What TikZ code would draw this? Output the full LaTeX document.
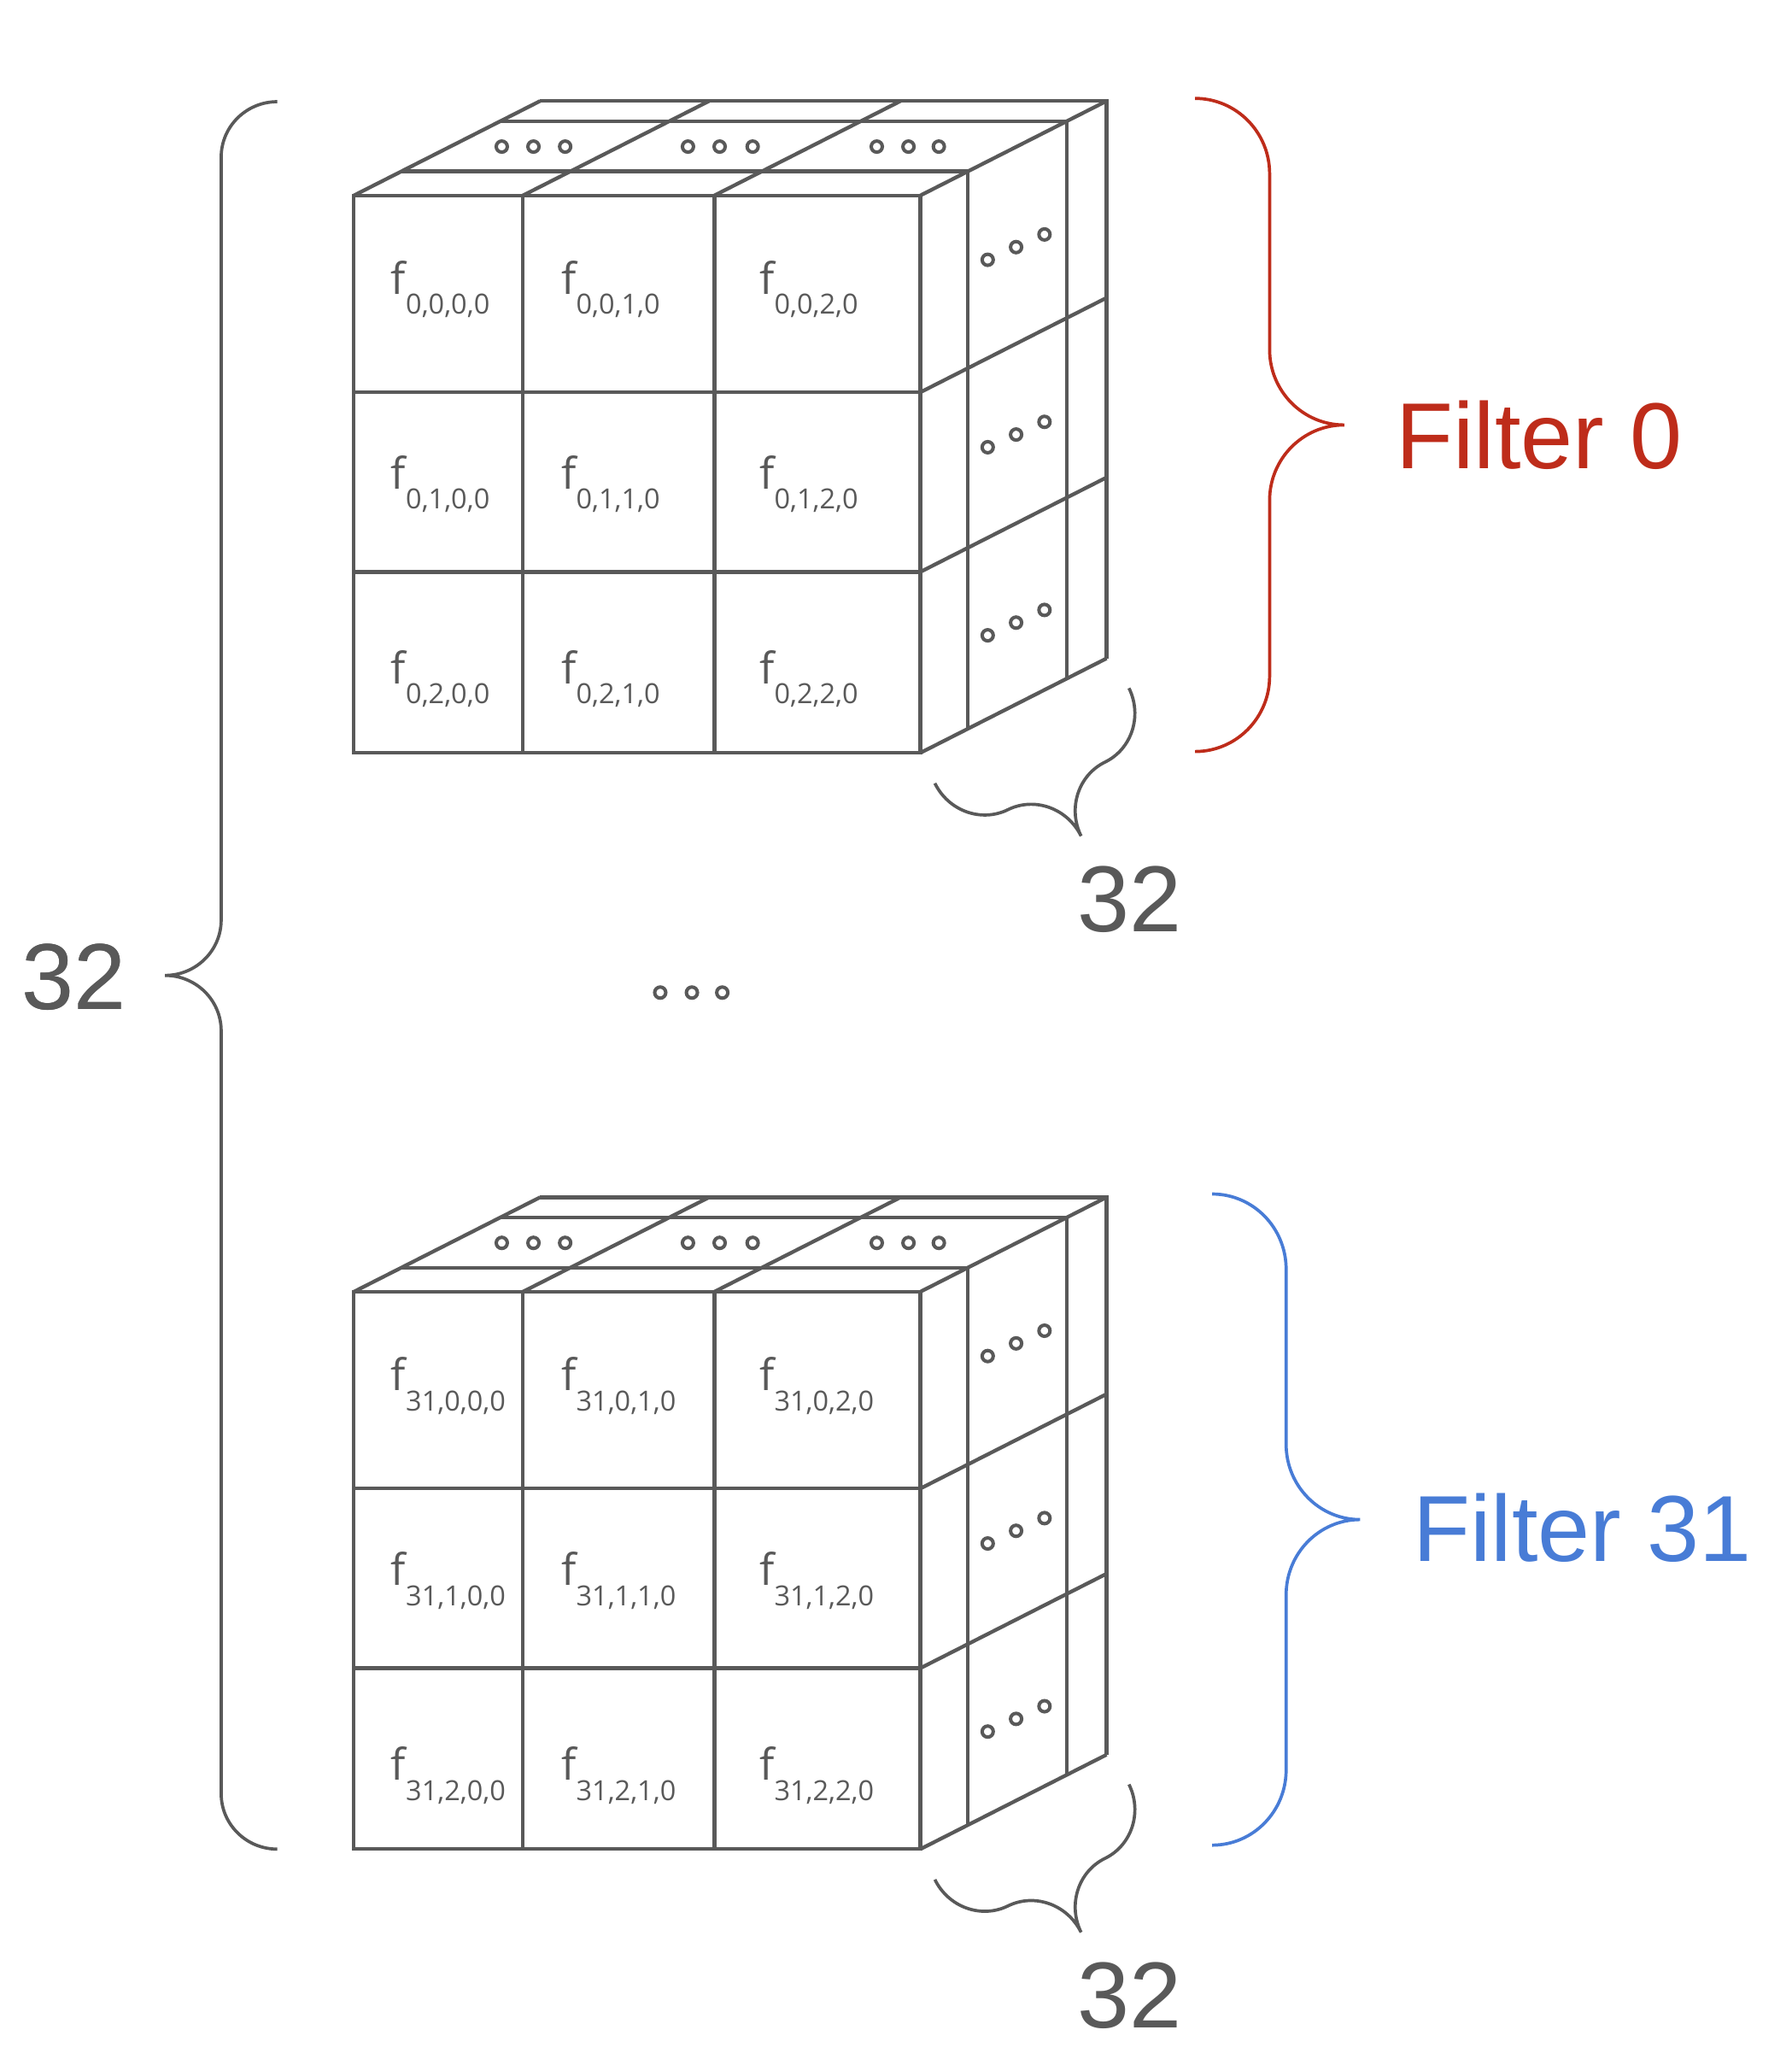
\documentclass[tikz,border=0pt]{standalone}
\usepackage{fontspec}
\setmainfont{Liberation Sans}
\newfontfamily\cellfont{Open Sans}
\usepackage{tikz}
\definecolor{inkgray}{RGB}{89,89,89}
\definecolor{filterred}{RGB}{190,44,26}
\definecolor{filterblue}{RGB}{72,124,214}

% curly brace: length, radius along, radius across, draw options
\newcommand{\curly}[4]{%
	\draw[#4] (0,0) arc[start angle=180, end angle=90, x radius=#2, y radius=#3]
		-- ++({#1/2-2*#2},0)
		arc[start angle=270, end angle=360, x radius=#2, y radius=#3]
		arc[start angle=180, end angle=270, x radius=#2, y radius=#3]
		-- ++({#1/2-2*#2},0)
		arc[start angle=90, end angle=0, x radius=#2, y radius=#3];}

% one filter: vertical shift, filter index
\newcommand{\filtercube}[2]{%
\begin{scope}[yshift=#1]
	\draw[cubeline] (268,-148) rectangle (697,-570);
	\foreach \x in {396,541}
		\draw[cubeline] (\x,-148) -- (\x,-570);
	\foreach \y in {297,433}
		\draw[cubeline] (268,-\y) -- (697,-\y);
	\foreach \t in {0.255,0.787,1}
		\draw[cubeline, shift={({141*\t},{71.5*\t})}] (268,-148) -- (697,-148) -- (697,-570);
	\foreach \x in {268,396,541,697}
		\draw[cubeline] (\x,-148) -- ++(141,71.5);
	\foreach \y in {297,433,570}
		\draw[cubeline] (697,-\y) -- ++(141,71.5);
	\foreach \x in {380,404,428,521,545,570,664,688,711}
		\draw[dotring] (\x,-111) circle[radius=4.2pt];
	\foreach \y in {196.7,338.6,481}
		\foreach \k in {0,1,2}
			\draw[dotring] ({748+21.5*\k},{-\y+9.6*\k}) circle[radius=4.2pt];
	\foreach \r in {0,1,2}
		\foreach \c/\x in {0/296,1/425,2/575}
			\node[celltext] (f#2-\r-\c) at (\x,{-223-147.5*\r}) {f\raisebox{-15pt}{\fontsize{21}{21}\selectfont #2,\r,\c,0}};
\end{scope}}

\begin{document}
\begin{tikzpicture}[x=1pt, y=1pt,
					cubeline/.style={draw=inkgray, line width=2.8pt},
					dotring/.style={draw=inkgray, line width=2.6pt},
					celltext/.style={anchor=base west, inner sep=0pt, text=inkgray, font=\cellfont\fontsize{33}{33}\selectfont},
					bigtext/.style={anchor=base west, inner sep=0pt, font=\fontsize{71}{71}\selectfont},
					bracepen/.style={line width=2.4pt}]
\useasboundingbox (0,0) rectangle (1357,-1568);
\filtercube{0}{0}
\filtercube{-830}{31}
\foreach \x in {500,524,547}
	\draw[dotring] (\x,-751.5) circle[radius=4.2pt];
% braces
\begin{scope}[shift={(210,-1400)}, rotate=90]
	\curly{1323}{42}{42.5}{bracepen, inkgray}
\end{scope}
\begin{scope}[shift={(905,-74.5)}, rotate=-90]
	\curly{494.5}{57}{56.5}{bracepen, filterred}
\end{scope}
\begin{scope}[shift={(918,-904)}, rotate=-90]
	\curly{493}{57}{56}{bracepen, filterblue}
\end{scope}
\foreach \y in {0,-830}
	\begin{scope}[shift={(855,-521+\y)}, rotate=206.1]
		\curly{163.7}{40.9}{42.3}{bracepen, inkgray}
	\end{scope}
% labels
\node[bigtext, text=inkgray] (height) at (16,-764.5) {32};
\node[bigtext, text=inkgray] (depth0) at (816,-705.5) {32};
\node[bigtext, text=inkgray] (depth31) at (816,-1535.5) {32};
\node[bigtext, text=filterred] (filter0) at (1057,-354.5) {Filter 0};
\node[bigtext, text=filterblue] (filter31) at (1070,-1182) {Filter 31};
\end{tikzpicture}
\end{document}
